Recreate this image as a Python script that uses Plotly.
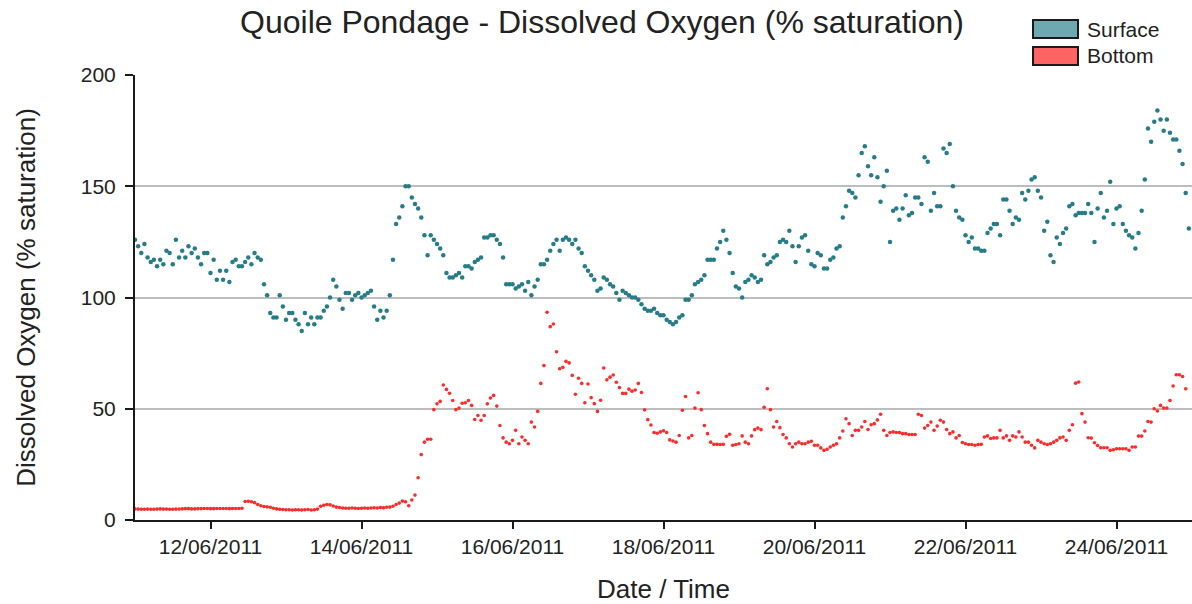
import pandas as pd
import plotly.graph_objects as go

start_time = "2011-06-11 00:00"

surface = [
    126,123,120,124,118,116,117,114,117,115,121,120,115,126,118,121,118,123,120,122,118,115,120,120,
    111,117,108,112,108,112,107,116,117,114,114,116,118,115,120,118,117,106,101,93,
    91,91,101,96,90,93,93,90,88,85,93,88,91,88,91,91,94,96,100,108,105,99,95,102,102,99,101,102,
    100,101,102,103,96,90,94,91,94,101,117,133,136,141,
    150,150,145,142,140,136,128,119,128,126,124,122,119,111,109,109,110,111,109,114,
    114,113,116,117,118,127,127,128,128,126,124,118,106,106,106,104,105,106,103,107,101,105,108,115,
    115,117,121,124,126,121,126,127,126,124,126,122,120,114,112,110,108,103,104,109,
    108,106,105,102,99,103,102,101,100,100,99,97,95,94,94,95,93,92,92,90,89,88,
    89,91,92,99,99,101,106,107,108,110,117,117,117,122,125,130,126,120,111,105,
    104,100,107,108,110,109,107,108,119,115,116,118,119,125,126,125,130,123,116,123,127,128,
    121,115,114,120,119,113,113,117,118,122,123,136,141,148,147,145,155,165,168,159,155,
    163,154,143,150,157,125,139,140,135,140,146,137,138,145,145,142,163,161,139,147,141,141,
    167,165,169,150,139,136,135,128,125,127,122,122,121,121,129,131,133,133,128,144,
    144,139,133,136,135,147,144,148,153,154,148,145,130,134,119,116,127,124,129,131,141,142,137,
    138,138,138,142,138,125,140,147,136,139,152,133,140,141,133,130,128,127,122,129,
    139,153,176,170,179,184,180,175,180,174,171,171,166,160,147,131,
]

bottom = [
    5.0,4.9,4.8,4.8,4.9,4.8,4.8,4.9,5.0,4.9,4.9,4.8,4.8,4.9,4.9,5.0,5.1,5.1,5.0,5.0,
    5.1,5.1,5.2,5.2,5.1,5.1,5.2,5.2,5.2,5.2,5.1,5.2,5.2,5.2,5.3,
    8.3,8.4,8.2,7.8,7.0,6.4,6.1,5.9,5.7,
    5.3,5.0,4.8,4.7,4.6,4.6,4.5,4.6,4.6,4.5,4.6,4.7,4.5,4.6,4.9,
    6.2,6.6,7.0,6.8,6.3,5.8,
    5.6,5.4,5.3,5.3,5.4,5.3,5.2,5.3,5.4,5.3,5.4,5.5,5.4,5.6,5.5,5.7,5.8,6.2,
    7.0,7.6,
    8.5,8.2,6.4,9.0,11.2,19.0,29.4,35.0,36.3,36.3,49.6,52.2,53.3,60.7,58.7,57.0,53.7,49.6,50.3,52.5,
    52.7,53.7,51.5,45.2,47.0,44.8,47.0,52.2,54.8,56.0,51.2,42.5,36.9,35.0,34.3,35.8,40.3,34.3,37.3,35.8,
    34.3,44.0,41.8,48.8,
    61.4,69.4,93.4,86.9,88.1,75.6,68.0,68.6,71.3,70.6,65.0,56.5,63.7,61.4,52.7,61.1,55.0,52.3,48.8,53.8,
    68.3,63.0,64.2,65.2,61.9,59.5,56.9,56.9,58.8,57.9,58.4,61.4,57.3,49.5,45.1,42.7,39.3,39.0,39.6,40.1,
    39.3,36.0,35.5,
    35.0,38.0,49.3,55.5,36.9,38.0,50.3,57.2,49.6,42.5,38.8,35.0,34.0,34.0,33.9,34.0,37.6,38.5,33.6,33.9,
    34.3,37.8,35.0,34.3,37.8,40.6,41.3,40.6,50.7,59.0,49.6,41.8,44.3,41.5,38.4,36.9,34.3,32.8,34.3,35.0,
    34.3,34.3,
    35.0,35.4,33.6,33.6,32.4,31.3,31.8,32.8,33.6,34.3,36.9,40.0,45.5,43.3,38.0,40.3,40.3,41.8,44.3,40.7,
    42.8,43.3,45.0,47.5,40.3,38.0,39.3,39.6,39.3,39.3,38.8,38.8,38.4,38.4,38.4,47.5,47.0,41.3,42.5,44.0,
    40.3,42.2,
    44.8,44.0,40.7,38.8,39.6,36.9,38.0,34.8,34.3,33.9,33.9,33.6,33.9,34.0,37.3,37.8,36.6,36.9,36.9,40.3,
    36.9,37.8,35.8,37.8,37.3,39.6,37.3,35.0,35.0,33.6,32.4,35.8,35.0,34.3,33.9,34.3,35.0,35.8,36.9,37.3,
    35.8,40.3,42.8,
    61.5,62.0,47.8,44.0,37.0,36.8,34.7,33.5,32.5,32.5,32.5,31.3,31.6,32.0,32.0,32.0,32.0,31.3,32.8,32.8,
    37.7,37.7,40.0,44.3,44.0,50.0,49.0,51.5,50.3,50.3,53.7,60.2,65.3,65.3,64.5,59.0,
]

tick_dates = ["2011-06-12", "2011-06-14", "2011-06-16", "2011-06-18",
              "2011-06-20", "2011-06-22", "2011-06-24"]
tick_labels = ["12/06/2011", "14/06/2011", "16/06/2011", "18/06/2011",
               "20/06/2011", "22/06/2011", "24/06/2011"]
y_ticks = [0, 50, 100, 150, 200]

series_names = ["Surface", "Bottom"]
x_range = ["2011-06-11 00:00", "2011-06-25 00:00"]

t_surface = pd.date_range(start_time, periods=len(surface), freq="h")
t_bottom = pd.date_range(start_time, periods=len(bottom), freq="h")

FONT = "Liberation Sans, Arial, sans-serif"
TXT = "#222222"

fig = go.Figure()
fig.add_trace(go.Scatter(x=t_surface, y=surface, mode="markers", name=series_names[0],
                         marker=dict(size=4.5, color="#267c88"), showlegend=False,
                         cliponaxis=True))
fig.add_trace(go.Scatter(x=t_bottom, y=bottom, mode="markers", name=series_names[1],
                         marker=dict(size=3.6, color="#ff2a2a"), showlegend=False,
                         cliponaxis=True))

W, H = 1192, 604
L, R, T, B = 135, 0, 75, 84
pw, ph = W - L - R, H - T - B

def px(xp):
    return (xp - L) / pw

def py(yp):
    return (H - B - yp) / ph

shapes = [
    dict(type="rect", xref="paper", yref="paper", x0=px(1015), x1=1.0, y0=py(84), y1=py(0),
         fillcolor="white", line=dict(width=0), layer="above"),
    dict(type="rect", xref="paper", yref="paper", x0=px(1033), x1=px(1078), y0=py(38), y1=py(20),
         fillcolor="#6ea8b0", line=dict(color="#1a1a1a", width=2), layer="above"),
    dict(type="rect", xref="paper", yref="paper", x0=px(1033), x1=px(1078), y0=py(65), y1=py(47),
         fillcolor="#ff6464", line=dict(color="#1a1a1a", width=2), layer="above"),
]
annotations = [
    dict(text=series_names[0], xref="paper", yref="paper", x=px(1085), y=py(29),
         xanchor="left", yanchor="middle", showarrow=False, font=dict(family=FONT, size=21, color=TXT)),
    dict(text=series_names[1], xref="paper", yref="paper", x=px(1085), y=py(56),
         xanchor="left", yanchor="middle", showarrow=False, font=dict(family=FONT, size=21, color=TXT)),
]

fig.update_layout(
    width=W, height=H,
    margin=dict(l=L, r=R, t=T, b=B, autoexpand=False),
    paper_bgcolor="white", plot_bgcolor="white",
    font=dict(family=FONT, color=TXT),
    title=dict(text="Quoile Pondage - Dissolved Oxygen (% saturation)",
               x=602 / W, xanchor="center",
               y=1 - 22 / H, yanchor="middle", yref="container",
               font=dict(family=FONT, size=32, color=TXT)),
    xaxis=dict(type="date", range=x_range, tickvals=tick_dates, ticktext=tick_labels,
               automargin=False,
               showgrid=False, zeroline=False, showline=True, linecolor="#1a1a1a", linewidth=2,
               ticks="outside", ticklen=7, tickwidth=2, tickcolor="#1a1a1a",
               ticklabelstandoff=0,
               tickfont=dict(family=FONT, size=21, color=TXT),
               title=dict(text="Date / Time", font=dict(family=FONT, size=26, color=TXT), standoff=24)),
    yaxis=dict(range=[0, 200], tickvals=y_ticks, showgrid=True, gridcolor="#bdbdbd", gridwidth=1.5,
               automargin=False,
               zeroline=False, showline=True, linecolor="#1a1a1a", linewidth=2,
               ticks="outside", ticklen=8, tickwidth=2, tickcolor="#1a1a1a",
               ticklabelstandoff=5,
               tickfont=dict(family=FONT, size=21, color=TXT),
               title=dict(text="Dissolved Oxygen (% saturation)",
                          font=dict(family=FONT, size=26, color=TXT), standoff=38)),
    shapes=shapes,
    annotations=annotations,
)

fig.write_html(
    "out.html",
    config={"displayModeBar": False},
    post_script="document.body.style.margin='0';document.body.style.overflow='hidden';",
)
